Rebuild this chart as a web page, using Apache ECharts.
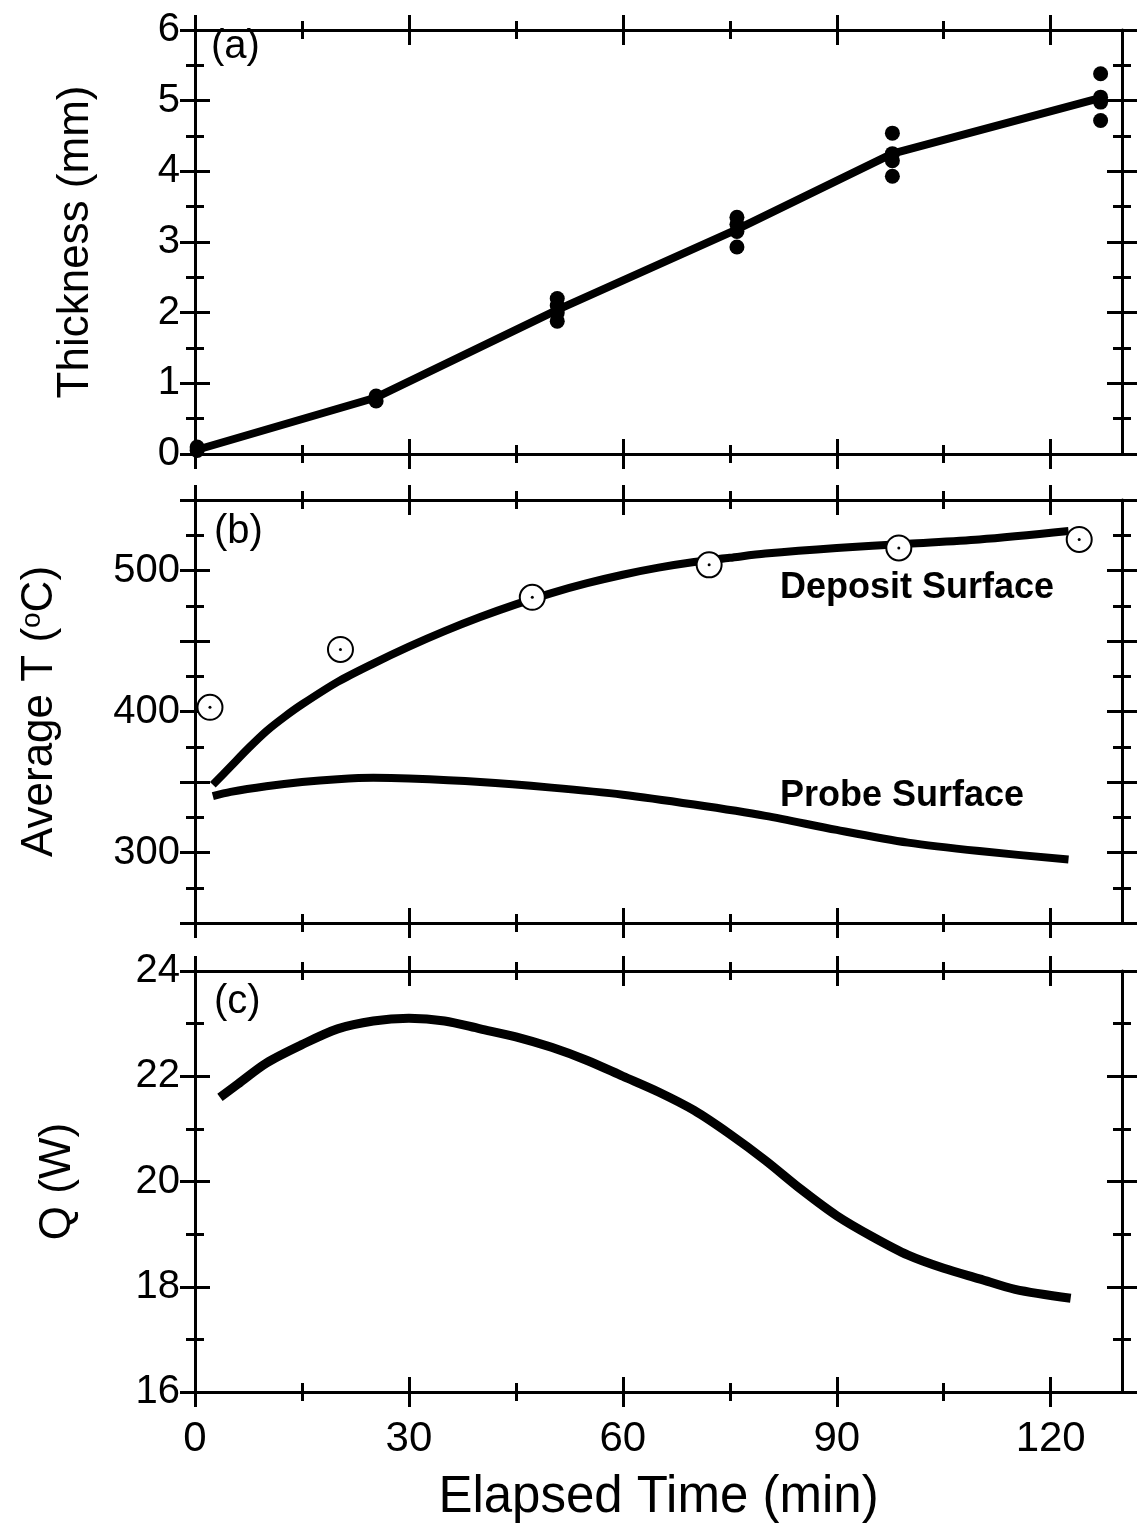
<!DOCTYPE html>
<html><head><meta charset="utf-8">
<script src="https://cdn.jsdelivr.net/npm/echarts@6/dist/echarts.min.js"></script>
<style>html,body{margin:0;padding:0;background:#fff}#c{width:1139px;height:1524px}</style>
</head><body><div id="c"></div>
<script>
// ---------- data ----------
const timeMajorTicks = [0, 30, 60, 90, 120];
const timeMinorTicks = [15, 45, 75, 105];
const thickMajorTicks = [0, 1, 2, 3, 4, 5, 6];
const thickMinorTicks = [0.5, 1.5, 2.5, 3.5, 4.5, 5.5];
const tempMajorTicks = [250, 300, 350, 400, 450, 500, 550];
const tempMinorTicks = [275, 325, 375, 425, 475, 525];
const tempLabels = [300, 400, 500];
const qMajorTicks = [16, 18, 20, 22, 24];
const qMinorTicks = [17, 19, 21, 23];

// (a) measured thickness points [min, mm]
const thicknessPoints = [
  [0.3, 0.05], [0.3, 0.1],
  [25.4, 0.75], [25.4, 0.82],
  [50.8, 1.88], [50.8, 2.0], [50.8, 2.1], [50.8, 2.2],
  [76, 2.93], [76, 3.15], [76, 3.25], [76, 3.35],
  [97.8, 3.93], [97.8, 4.15], [97.8, 4.25], [97.8, 4.54],
  [127, 4.72], [127, 4.98], [127, 5.05], [127, 5.38]
];
// (a) fitted thickness line
const thicknessFit = [[0.3, 0.06], [25.4, 0.8], [50.8, 2.04], [76, 3.18], [97.8, 4.25], [127, 5.04]];

// (b) deposit surface temperature (model) [min, °C]
const depositLine = [
  [2.5, 348], [5, 361], [7.5, 374], [10, 386], [12.5, 396], [15, 405], [20, 421], [25, 434],
  [30, 446], [35, 457], [40, 467], [45, 476], [50, 484], [55, 491], [60, 497], [65, 502],
  [70, 506], [75, 509], [80, 512], [90, 516], [100, 519], [110, 522], [122.5, 528]
];
// (b) probe surface temperature
const probeLine = [
  [2.5, 340], [5, 343], [10, 347], [15, 350], [20, 352], [25, 353], [30, 352.5], [40, 350],
  [50, 346], [60, 341], [70, 334], [80, 326], [90, 316], [100, 307], [110, 301], [122.5, 295]
];
// (b) measured deposit surface temperature
const depositMeasured = [[2.1, 403], [20.4, 444], [47.3, 481], [72.1, 504], [98.7, 516], [124, 522]];

// (c) heat flow Q [min, W]
const heatQ = [
  [3.5, 21.6], [6, 21.85], [10, 22.25], [15, 22.6], [20, 22.9], [25, 23.05], [30, 23.1],
  [35, 23.05], [40, 22.9], [45, 22.75], [50, 22.55], [55, 22.3], [60, 22.0], [65, 21.7],
  [70, 21.35], [75, 20.9], [80, 20.4], [85, 19.85], [90, 19.35], [95, 18.95], [100, 18.6],
  [105, 18.35], [110, 18.15], [115, 17.95], [122.8, 17.78]
];

// ---------- chart ----------
const FONT = '"Liberation Sans", Arial, Helvetica, sans-serif';
const grids = [
  { left: 195, right: 17, top: 30, height: 424 },
  { left: 195, right: 17, top: 500, height: 423 },
  { left: 195, right: 17, top: 971, height: 422 }
];
const MAJ_LEN = 15, MIN_LEN = 9;

const xAxis = [], yAxis = [];
function addX(g, showLabels, name) {
  for (const pos of ['bottom', 'top']) for (const inside of [false, true]) for (const kind of ['major', 'minor']) {
    const primary = pos === 'bottom' && !inside && kind === 'major';
    xAxis.push({
      type: 'value', gridIndex: g, position: pos, min: 0, max: 130,
      axisLine: { show: primary || (pos === 'top' && !inside && kind === 'major'), onZero: false, lineStyle: { color: '#000', width: 3 } },
      axisTick: { show: true, inside: inside, length: kind === 'major' ? MAJ_LEN : MIN_LEN,
        customValues: kind === 'major' ? timeMajorTicks : timeMinorTicks, lineStyle: { color: '#000', width: 3 } },
      axisLabel: { show: primary && showLabels, customValues: timeMajorTicks, color: '#000',
        fontFamily: FONT, fontSize: 42, margin: 26 },
      splitLine: { show: false },
      name: primary ? name : '', nameLocation: 'middle', nameGap: 80,
      nameTextStyle: { fontFamily: FONT, fontSize: 51, color: '#000' }
    });
  }
}
function addY(g, min, max, maj, minr, labels, name, nameGap, rich) {
  for (const pos of ['left', 'right']) for (const inside of [false, true]) for (const kind of ['major', 'minor']) {
    const primary = pos === 'left' && !inside && kind === 'major';
    yAxis.push({
      type: 'value', gridIndex: g, position: pos, min: min, max: max,
      axisLine: { show: !inside && kind === 'major', onZero: false, lineStyle: { color: '#000', width: 3 } },
      axisTick: { show: true, inside: inside, length: kind === 'major' ? MAJ_LEN : MIN_LEN,
        customValues: kind === 'major' ? maj : minr, lineStyle: { color: '#000', width: 3 } },
      axisLabel: { show: primary, customValues: labels, color: '#000', fontFamily: FONT, fontSize: 40, margin: 15 },
      splitLine: { show: false },
      name: primary ? name : '', nameLocation: 'middle', nameGap: nameGap, nameRotate: 90,
      nameTextStyle: { fontFamily: FONT, fontSize: 44, color: '#000', rich: rich || {} }
    });
  }
}
addX(0, false, '');
addX(1, false, '');
addX(2, true, 'Elapsed Time (min)');
addY(0, 0, 6, thickMajorTicks, thickMinorTicks, thickMajorTicks, 'Thickness (mm)', 97);
addY(1, 250, 550, tempMajorTicks, tempMinorTicks, tempLabels, 'Average T ({s|o}C)', 133,
  { s: { fontFamily: FONT, fontSize: 28, color: '#000', verticalAlign: 'top' } });
addY(2, 16, 24, qMajorTicks, qMinorTicks, qMajorTicks, 'Q (W)', 115);

const lineStyle = w => ({ color: '#000', width: w, cap: 'butt', join: 'round' });
const series = [
  { type: 'line', xAxisIndex: 0, yAxisIndex: 0, data: thicknessFit, symbol: 'none', lineStyle: lineStyle(8), z: 2 },
  { type: 'scatter', xAxisIndex: 0, yAxisIndex: 0, data: thicknessPoints, symbol: 'circle', symbolSize: 15,
    itemStyle: { color: '#000', opacity: 1 }, z: 3 },
  { type: 'line', xAxisIndex: 8, yAxisIndex: 8, data: depositLine, symbol: 'none', smooth: 0.3, lineStyle: lineStyle(8), z: 2 },
  { type: 'line', xAxisIndex: 8, yAxisIndex: 8, data: probeLine, symbol: 'none', smooth: 0.3, lineStyle: lineStyle(8), z: 2 },
  { type: 'scatter', xAxisIndex: 8, yAxisIndex: 8, data: depositMeasured, symbol: 'circle', symbolSize: 25,
    itemStyle: { color: '#fff', borderColor: '#000', borderWidth: 2, opacity: 1 }, z: 3 },
  { type: 'scatter', xAxisIndex: 8, yAxisIndex: 8, data: depositMeasured, symbol: 'circle', symbolSize: 3,
    itemStyle: { color: '#000', opacity: 1 }, z: 4 },
  { type: 'line', xAxisIndex: 16, yAxisIndex: 16, data: heatQ, symbol: 'none', smooth: 0.3, lineStyle: lineStyle(9), z: 2 }
];

const txt = (t, x, y, size, bold) => ({
  type: 'text', x: x, y: y, z: 10,
  style: { text: t, font: (bold ? 'bold ' : '') + size + 'px ' + FONT, fill: '#000', textVerticalAlign: 'middle' }
});

const chart = echarts.init(document.getElementById('c'), null, { renderer: 'canvas' });
chart.setOption({
  animation: false,
  backgroundColor: '#fff',
  grid: grids,
  xAxis: xAxis,
  yAxis: yAxis,
  series: series,
  graphic: [
    txt('(a)', 211, 47, 40, false),
    txt('(b)', 214, 532, 40, false),
    txt('(c)', 214, 1002, 40, false),
    txt('Deposit Surface', 780, 588, 36, true),
    txt('Probe Surface', 780, 796, 36, true)
  ]
});
</script>
</body></html>
